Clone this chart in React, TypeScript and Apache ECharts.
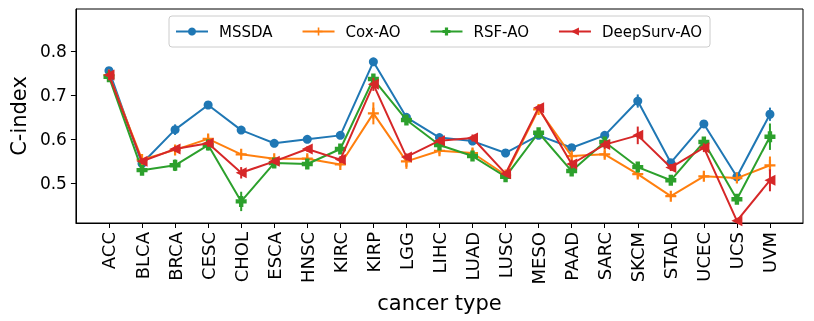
import React, { useEffect, useRef } from "react";
import * as echarts from "echarts";

const categories = ["ACC","BLCA","BRCA","CESC","CHOL","ESCA","HNSC","KIRC","KIRP","LGG","LIHC","LUAD","LUSC","MESO","PAAD","SARC","SKCM","STAD","UCEC","UCS","UVM"];

const seriesNames = ["MSSDA", "Cox-AO", "RSF-AO", "DeepSurv-AO"];
const colors = ["#1f77b4", "#ff7f0e", "#2ca02c", "#d62728"];

const mssda = [0.755,0.544,0.621,0.677,0.620,0.590,0.599,0.608,0.775,0.649,0.603,0.595,0.568,0.608,0.580,0.608,0.686,0.546,0.634,0.514,0.656];
const coxAO = [0.745,0.553,0.575,0.600,0.565,0.555,0.555,0.542,0.658,0.549,0.573,0.568,0.518,0.667,0.561,0.565,0.520,0.470,0.515,0.511,0.540];
const rsfAO = [0.741,0.529,0.540,0.586,0.458,0.545,0.543,0.577,0.736,0.643,0.586,0.561,0.514,0.614,0.527,0.593,0.536,0.506,0.593,0.463,0.605];
const deepSurvAO = [0.745,0.549,0.577,0.590,0.523,0.549,0.577,0.553,0.724,0.559,0.596,0.602,0.521,0.671,0.543,0.587,0.608,0.535,0.580,0.414,0.506];

const mssdaErr = [0.007,0.005,0.012,0.005,0.006,0.004,0.004,0.004,0.005,0.005,0.004,0.004,0.003,0.005,0.004,0.004,0.015,0.005,0.005,0.005,0.015];
const coxAOErr = [0.010,0.005,0.005,0.008,0.004,0.004,0.008,0.005,0.025,0.017,0.008,0.010,0.005,0.005,0.008,0.008,0.008,0.004,0.006,0.005,0.020];
const rsfAOErr = [0.008,0.005,0.013,0.012,0.022,0.005,0.006,0.010,0.010,0.008,0.006,0.006,0.005,0.008,0.010,0.006,0.008,0.005,0.008,0.010,0.030];
const deepSurvAOErr = [0.012,0.006,0.006,0.008,0.013,0.006,0.006,0.008,0.015,0.008,0.008,0.008,0.006,0.006,0.010,0.010,0.020,0.008,0.010,0.005,0.025];

const yTicks = [0.5, 0.6, 0.7, 0.8];

const allValues = [mssda, coxAO, rsfAO, deepSurvAO];
const allErrors = [mssdaErr, coxAOErr, rsfAOErr, deepSurvAOErr];

const symbols = [
  "circle",
  "path://M4,0H6V4H10V6H6V10H4V6H0V4H4Z",
  "path://M3,0H7V3H10V7H7V10H3V7H0V3H3Z",
  "path://M0,5L10,0L10,10Z",
];
const symbolSizes = [9, 11, 11, 11];

const FONT = "DejaVu Sans";

export default function App() {
  const ref = useRef<HTMLDivElement>(null);
  useEffect(() => {
    if (!ref.current) return;
    const chart = echarts.init(ref.current, undefined, { renderer: "svg" });
    const paddedCats = ["", ...categories, ""];
    const series: any[] = [];
    allValues.forEach((vals, s) => {
      const errs = allErrors[s];
      series.push({
        name: seriesNames[s] + "-err",
        type: "custom",
        clip: true,
        z: 2 + s * 2,
        silent: true,
        encode: { x: 0, y: [1, 2] },
        data: vals.map((v, i) => [i + 1, v - errs[i], v + errs[i]]),
        renderItem: (params: any, api: any) => {
          const x = api.value(0);
          const lo = api.coord([x, api.value(1)]);
          const hi = api.coord([x, api.value(2)]);
          return {
            type: "line",
            shape: { x1: lo[0], y1: lo[1], x2: hi[0], y2: hi[1] },
            style: { stroke: colors[s], lineWidth: 2 },
          };
        },
      });
      series.push({
        name: seriesNames[s],
        type: "line",
        z: 3 + s * 2,
        clip: true,
        data: vals.map((v, i) => [i + 1, v]),
        symbol: symbols[s],
        symbolSize: symbolSizes[s],
        showSymbol: true,
        lineStyle: { color: colors[s], width: 2 },
        itemStyle: { color: colors[s] },
      });
    });

    chart.setOption({
      animation: false,
      textStyle: { fontFamily: FONT, color: "#000" },
      grid: {
        left: 73,
        top: 9,
        width: 730,
        height: 214,
        show: true,
        borderColor: "#000",
        borderWidth: 1,
        backgroundColor: "transparent",
        containLabel: false,
      },
      legend: {
        data: seriesNames,
        left: 169,
        top: 16,
        padding: [8, 8, 8, 6],
        itemGap: 29,
        itemWidth: 32,
        itemHeight: 10,
        borderColor: "#cccccc",
        borderWidth: 1,
        borderRadius: 3,
        backgroundColor: "rgba(255,255,255,0.8)",
        textStyle: { fontFamily: FONT, fontSize: 15, color: "#000", padding: [0, 0, 0, 6] },
      },
      xAxis: {
        type: "category",
        data: paddedCats,
        boundaryGap: false,
        axisLine: { show: true, lineStyle: { color: "#000", width: 1 } },
        axisTick: {
          show: true,
          length: 5,
          interval: (index: number) => index !== 0 && index !== paddedCats.length - 1,
          lineStyle: { color: "#000" },
        },
        axisLabel: {
          interval: 0,
          rotate: 90,
          margin: 9,
          fontFamily: FONT,
          fontSize: 18,
          color: "#000",
        },
        splitLine: { show: false },
        name: "cancer type",
        nameLocation: "middle",
        nameGap: 65,
        nameTextStyle: { fontFamily: FONT, fontSize: 21, color: "#000" },
      },
      yAxis: {
        type: "value",
        min: 0.409,
        max: 0.895,
        axisLine: { show: true, lineStyle: { color: "#000", width: 1 } },
        axisTick: { show: true, length: 5, customValues: yTicks, lineStyle: { color: "#000" } },
        axisLabel: {
          customValues: yTicks,
          formatter: (v: number) => v.toFixed(1),
          margin: 9,
          fontFamily: FONT,
          fontSize: 17,
          color: "#000",
        },
        splitLine: { show: false },
        name: "C-index",
        nameLocation: "middle",
        nameGap: 44,
        nameRotate: 90,
        nameTextStyle: { fontFamily: FONT, fontSize: 21, color: "#000" },
      },
      series,
    });
    return () => chart.dispose();
  }, []);
  return (
    <div
      ref={ref}
      style={{ position: "fixed", left: 0, top: 0, width: 814, height: 321 }}
    />
  );
}
